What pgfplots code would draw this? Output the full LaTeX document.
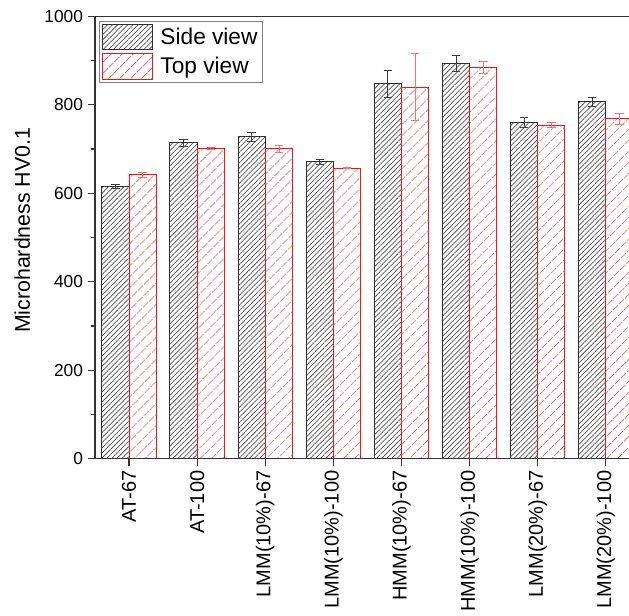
\documentclass[border=0pt]{standalone}
\usepackage{pgfplots}
\pgfplotsset{compat=1.18}
\usepackage{pgfplotstable}
\usepackage{fontspec}
\setmainfont{Liberation Sans}
\usetikzlibrary{patterns.meta}

\definecolor{sideline}{HTML}{2E2E2E}
\definecolor{sidehatch}{HTML}{555555}
\definecolor{sideerr}{HTML}{3A3A3A}
\definecolor{topline}{HTML}{FF1010}
\definecolor{tophatch}{HTML}{FF6A6A}
\definecolor{toperr}{HTML}{FF7070}
\definecolor{frame}{HTML}{333333}

% microhardness, side view
\pgfplotstableread{
x   val  err
0   615  5
1   714  7.5
2   728  10
3   671  5
4   847  31
5   894  18
6   760  12
7   807  10.5
}\sidetable

% microhardness, top view
\pgfplotstableread{
x   val  err
0   642  6
1   701  2
2   701  8
3   657  2
4   840  76
5   885  14
6   754  6
7   768  12
}\toptable

\begin{document}
\begin{tikzpicture}
\begin{axis}[
  name=ax,
  at={(0,0)}, anchor=south west,
  scale only axis,
  width=400.5pt, height=331.8pt,
  xmin=-0.5, xmax=7.34,
  ymin=0, ymax=1000,
  axis line style={draw=none},
  tick align=outside,
  xtick pos=bottom, ytick pos=left,
  major tick length=5.5pt, minor tick length=3pt,
  every tick/.style={line width=0.9pt, color=frame},
  xtick={0,...,7},
  xticklabels={AT-67, AT-100, LMM(10\%)-67, LMM(10\%)-100,
               HMM(10\%)-67, HMM(10\%)-100, LMM(20\%)-67, LMM(20\%)-100},
  ytick={0,200,...,1000},
  minor ytick={100,300,...,900},
  /pgf/number format/assume math mode=true,
  /pgf/number format/1000 sep={},
  xticklabel style={rotate=90, anchor=east,
                    font=\fontsize{15}{18}\selectfont},
  yticklabel style={font=\fontsize{13}{15}\selectfont},
  ylabel={Microhardness HV0.1},
  ylabel style={font=\fontsize{16}{19}\selectfont,
                at={(axis description cs:-0.136,0.516)}, anchor=center},
  legend cell align=left,
  legend image code/.code={%
    \draw[#1] (0pt,-9.4pt) rectangle (37.5pt,9.4pt);},
  legend style={at={(0,1)}, anchor=north west, xshift=3pt, yshift=-3.6pt,
                draw=gray, line width=0.75pt, inner sep=2pt,
                font=\fontsize{17}{20}\selectfont,
                row sep=2.4pt,
                nodes={inner xsep=2pt, inner ysep=0.5pt},
                /tikz/every odd column/.append style={column sep=3.5pt}},
]

% bars sit at category -/+ 0.2, so the error bars follow them
\addplot[ybar, bar width=0.4, bar shift=0,
  draw=sideline, line width=0.75pt,
  pattern={Lines[angle=45, distance=2.7pt, line width=0.55pt]},
  pattern color=sidehatch,
  error bars/.cd, y dir=both, y explicit,
  error bar style={sideerr, line width=0.6pt},
  error mark options={rotate=90, mark size=3.2pt, sideerr, line width=0.6pt}]
  table[x expr=\thisrow{x}-0.2, y=val, y error=err] {\sidetable};
\addlegendentry{Side view}

\addplot[ybar, bar width=0.4, bar shift=0,
  draw=topline, line width=0.75pt,
  pattern={Lines[angle=45, distance=6.4pt, line width=0.85pt]},
  pattern color=tophatch,
  error bars/.cd, y dir=both, y explicit,
  error bar style={toperr, line width=0.6pt},
  error mark options={rotate=90, mark size=3.2pt, toperr, line width=0.6pt}]
  table[x expr=\thisrow{x}+0.2, y=val, y error=err] {\toptable};
\addlegendentry{Top view}

\end{axis}
% frame: top, left and bottom spines
\draw[frame, line width=1.1pt] (ax.north east) -- (ax.north west)
  -- (ax.south west) -- (ax.south east);
\pgfresetboundingbox
\useasboundingbox (-71.25pt,-118pt) rectangle (400.5pt,344pt);
\end{tikzpicture}
\end{document}
